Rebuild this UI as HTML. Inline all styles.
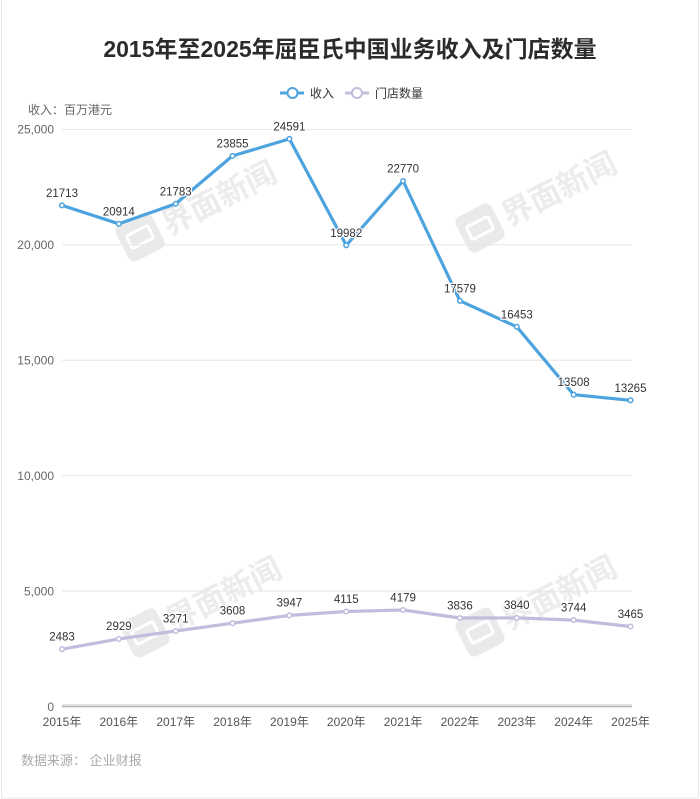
<!DOCTYPE html>
<html>
<head>
<meta charset="utf-8">
<style>
  html,body{margin:0;padding:0;background:#fff;}
  svg{display:block;}
  text{font-family:"Liberation Sans","Noto Sans CJK SC",sans-serif;}
  .lbl{font-size:11.5px;fill:#333;text-anchor:middle;paint-order:stroke;stroke:#fff;stroke-width:2.5px;stroke-linejoin:round;}
  .yl{font-size:12px;fill:#666;text-anchor:end;}
  .xl{font-size:12px;fill:#555;text-anchor:middle;}
  .wm text{font-size:31px;font-weight:bold;fill:#ececec;}
</style>
</head>
<body>
<svg width="700" height="799" viewBox="0 0 700 799" xmlns="http://www.w3.org/2000/svg">
  <rect x="0" y="0" width="700" height="799" fill="#fff"/>
  <rect x="1.5" y="-2" width="697" height="800" fill="none" stroke="#e8e8e8" stroke-width="1"/>

  <!-- watermarks -->
  <g class="wm" transform="translate(140,237) rotate(-27)">
    <rect x="-20" y="-20" width="40" height="40" rx="7" fill="#eaeaea"/>
    <rect x="-12" y="-7" width="24" height="14" rx="2" fill="none" stroke="#fff" stroke-width="3"/>
    <text x="26" y="12">界面新闻</text>
  </g>
  <g class="wm" transform="translate(480,228) rotate(-27)">
    <rect x="-20" y="-20" width="40" height="40" rx="7" fill="#eaeaea"/>
    <rect x="-12" y="-7" width="24" height="14" rx="2" fill="none" stroke="#fff" stroke-width="3"/>
    <text x="26" y="12">界面新闻</text>
  </g>
  <g class="wm" transform="translate(145,633) rotate(-27)">
    <rect x="-20" y="-20" width="40" height="40" rx="7" fill="#eaeaea"/>
    <rect x="-12" y="-7" width="24" height="14" rx="2" fill="none" stroke="#fff" stroke-width="3"/>
    <text x="26" y="12">界面新闻</text>
  </g>
  <g class="wm" transform="translate(480,632) rotate(-27)">
    <rect x="-20" y="-20" width="40" height="40" rx="7" fill="#eaeaea"/>
    <rect x="-12" y="-7" width="24" height="14" rx="2" fill="none" stroke="#fff" stroke-width="3"/>
    <text x="26" y="12">界面新闻</text>
  </g>

  <!-- title -->
  <text x="350" y="57" text-anchor="middle" style="font-size:23px;font-weight:bold;fill:#2b2b2b;">2015年至2025年屈臣氏中国业务收入及门店数量</text>

  <!-- legend -->
  <line x1="280" y1="93" x2="304" y2="93" stroke="#4da3dd" stroke-width="3"/>
  <circle cx="292.5" cy="93" r="5" fill="#fff" stroke="#4da3dd" stroke-width="2"/>
  <text x="310" y="97.5" style="font-size:12px;fill:#333;">收入</text>
  <line x1="345" y1="93" x2="369" y2="93" stroke="#c5bbdc" stroke-width="3"/>
  <circle cx="357" cy="93" r="5" fill="#fff" stroke="#c5bbdc" stroke-width="2"/>
  <text x="375" y="97.5" style="font-size:12px;fill:#333;">门店数量</text>

  <!-- unit -->
  <text x="28" y="114" style="font-size:12px;fill:#666;">收入：百万港元</text>

  <!-- grid -->
  <g stroke="#e6e6e6" stroke-width="1">
    <line x1="62" y1="129.5" x2="632" y2="129.5"/>
    <line x1="62" y1="244.9" x2="632" y2="244.9"/>
    <line x1="62" y1="360.3" x2="632" y2="360.3"/>
    <line x1="62" y1="475.7" x2="632" y2="475.7"/>
    <line x1="62" y1="591.1" x2="632" y2="591.1"/>
  </g>
  <line x1="62" y1="705" x2="632" y2="705" stroke="#e2e2e2" stroke-width="2"/>
  <line x1="62" y1="706.8" x2="632" y2="706.8" stroke="#999" stroke-width="1"/>

  <!-- y labels -->
  <text class="yl" x="54" y="133.5">25,000</text>
  <text class="yl" x="54" y="249">20,000</text>
  <text class="yl" x="54" y="364.5">15,000</text>
  <text class="yl" x="54" y="480">10,000</text>
  <text class="yl" x="54" y="595.5">5,000</text>
  <text class="yl" x="54" y="711">0</text>

  <!-- x labels -->
  <text class="xl" x="62" y="726">2015年</text>
  <text class="xl" x="118.85" y="726">2016年</text>
  <text class="xl" x="175.7" y="726">2017年</text>
  <text class="xl" x="232.55" y="726">2018年</text>
  <text class="xl" x="289.4" y="726">2019年</text>
  <text class="xl" x="346.25" y="726">2020年</text>
  <text class="xl" x="403.1" y="726">2021年</text>
  <text class="xl" x="459.95" y="726">2022年</text>
  <text class="xl" x="516.8" y="726">2023年</text>
  <text class="xl" x="573.65" y="726">2024年</text>
  <text class="xl" x="630.5" y="726">2025年</text>

  <!-- revenue series -->
  <polyline fill="none" stroke="#4da3dd" stroke-width="3.2" stroke-linejoin="round"
    points="62,205.4 118.85,223.8 175.7,203.75 232.55,155.9 289.4,138.9 346.25,245.3 403.1,181.0 459.95,300.8 516.8,326.8 573.65,394.7 630.5,400.3"/>
  <g fill="#fff" stroke="#4da3dd" stroke-width="1.5">
    <circle cx="62" cy="205.4" r="2.3"/>
    <circle cx="118.85" cy="223.8" r="2.3"/>
    <circle cx="175.7" cy="203.75" r="2.3"/>
    <circle cx="232.55" cy="155.9" r="2.3"/>
    <circle cx="289.4" cy="138.9" r="2.3"/>
    <circle cx="346.25" cy="245.3" r="2.3"/>
    <circle cx="403.1" cy="181.0" r="2.3"/>
    <circle cx="459.95" cy="300.8" r="2.3"/>
    <circle cx="516.8" cy="326.8" r="2.3"/>
    <circle cx="573.65" cy="394.7" r="2.3"/>
    <circle cx="630.5" cy="400.3" r="2.3"/>
  </g>

  <!-- stores series -->
  <polyline fill="none" stroke="#c5bbdc" stroke-width="3.2" stroke-linejoin="round"
    points="62,649.2 118.85,638.9 175.7,631.0 232.55,623.2 289.4,615.4 346.25,611.5 403.1,610.0 459.95,618.0 516.8,617.9 573.65,620.1 630.5,626.5"/>
  <g fill="#fff" stroke="#c5bbdc" stroke-width="1.5">
    <circle cx="62" cy="649.2" r="2.3"/>
    <circle cx="118.85" cy="638.9" r="2.3"/>
    <circle cx="175.7" cy="631.0" r="2.3"/>
    <circle cx="232.55" cy="623.2" r="2.3"/>
    <circle cx="289.4" cy="615.4" r="2.3"/>
    <circle cx="346.25" cy="611.5" r="2.3"/>
    <circle cx="403.1" cy="610.0" r="2.3"/>
    <circle cx="459.95" cy="618.0" r="2.3"/>
    <circle cx="516.8" cy="617.9" r="2.3"/>
    <circle cx="573.65" cy="620.1" r="2.3"/>
    <circle cx="630.5" cy="626.5" r="2.3"/>
  </g>

  <!-- revenue labels -->
  <text class="lbl" x="62" y="197">21713</text>
  <text class="lbl" x="118.85" y="215.3">20914</text>
  <text class="lbl" x="175.7" y="195.3">21783</text>
  <text class="lbl" x="232.55" y="147.4">23855</text>
  <text class="lbl" x="289.4" y="130.4">24591</text>
  <text class="lbl" x="346.25" y="236.8">19982</text>
  <text class="lbl" x="403.1" y="172.5">22770</text>
  <text class="lbl" x="459.95" y="292.3">17579</text>
  <text class="lbl" x="516.8" y="318.3">16453</text>
  <text class="lbl" x="573.65" y="386.2">13508</text>
  <text class="lbl" x="630.5" y="391.8">13265</text>

  <!-- stores labels -->
  <text class="lbl" x="62" y="640.5">2483</text>
  <text class="lbl" x="118.85" y="630.2">2929</text>
  <text class="lbl" x="175.7" y="622.3">3271</text>
  <text class="lbl" x="232.55" y="614.5">3608</text>
  <text class="lbl" x="289.4" y="606.7">3947</text>
  <text class="lbl" x="346.25" y="602.8">4115</text>
  <text class="lbl" x="403.1" y="601.3">4179</text>
  <text class="lbl" x="459.95" y="609.3">3836</text>
  <text class="lbl" x="516.8" y="609.2">3840</text>
  <text class="lbl" x="573.65" y="611.4">3744</text>
  <text class="lbl" x="630.5" y="617.8">3465</text>

  <!-- source -->
  <text x="21" y="765" style="font-size:13px;fill:#aaa;">数据来源： 企业财报</text>
</svg>
</body>
</html>
